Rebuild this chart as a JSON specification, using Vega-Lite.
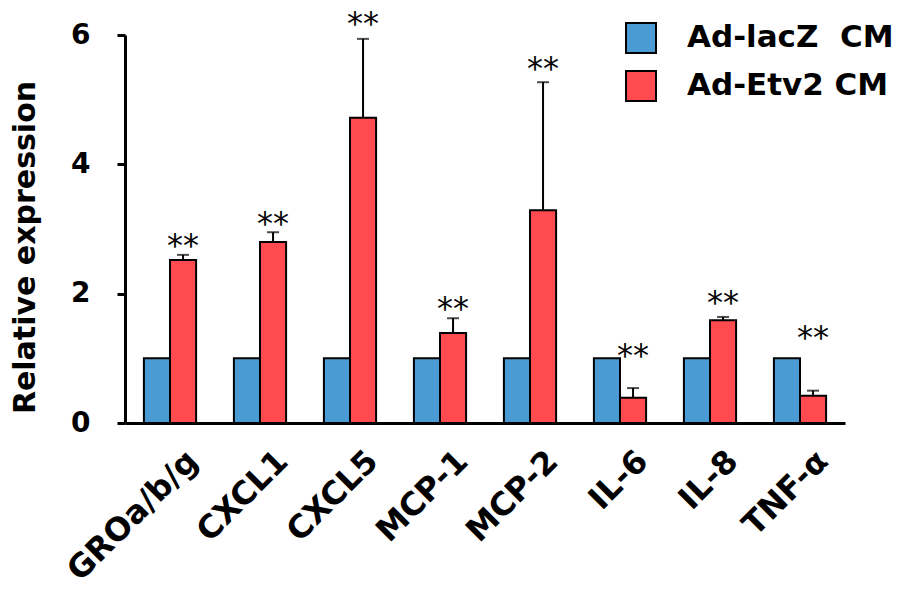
{
  "$schema": "https://vega.github.io/schema/vega-lite/v6.json",
  "width": 720,
  "height": 388,
  "autosize": "none",
  "padding": {"left": 125, "top": 35, "right": 58, "bottom": 180},
  "background": "white",
  "config": {
    "view": {"stroke": null},
    "font": "DejaVu Sans"
  },
  "data": {
    "values": [
      {"gene": "GROa/b/g", "group": "Ad-lacZ CM", "value": 1.0},
      {"gene": "GROa/b/g", "group": "Ad-Etv2 CM", "value": 2.52, "upper": 2.6, "star": 2.83},
      {"gene": "CXCL1", "group": "Ad-lacZ CM", "value": 1.0},
      {"gene": "CXCL1", "group": "Ad-Etv2 CM", "value": 2.8, "upper": 2.95, "star": 3.17},
      {"gene": "CXCL5", "group": "Ad-lacZ CM", "value": 1.0},
      {"gene": "CXCL5", "group": "Ad-Etv2 CM", "value": 4.72, "upper": 5.94, "star": 6.26},
      {"gene": "MCP-1", "group": "Ad-lacZ CM", "value": 1.0},
      {"gene": "MCP-1", "group": "Ad-Etv2 CM", "value": 1.39, "upper": 1.62, "star": 1.86},
      {"gene": "MCP-2", "group": "Ad-lacZ CM", "value": 1.0},
      {"gene": "MCP-2", "group": "Ad-Etv2 CM", "value": 3.29, "upper": 5.27, "star": 5.57},
      {"gene": "IL-6", "group": "Ad-lacZ CM", "value": 1.0},
      {"gene": "IL-6", "group": "Ad-Etv2 CM", "value": 0.39, "upper": 0.54, "star": 1.13},
      {"gene": "IL-8", "group": "Ad-lacZ CM", "value": 1.0},
      {"gene": "IL-8", "group": "Ad-Etv2 CM", "value": 1.59, "upper": 1.64, "star": 1.95},
      {"gene": "TNF-α", "group": "Ad-lacZ CM", "value": 1.0},
      {"gene": "TNF-α", "group": "Ad-Etv2 CM", "value": 0.42, "upper": 0.5, "star": 1.41}
    ]
  },
  "encoding": {
    "x": {
      "field": "gene",
      "type": "nominal",
      "sort": null,
      "scale": {"paddingInner": 0.42, "paddingOuter": 0.21},
      "axis": {
        "title": null,
        "labelAngle": -45,
        "labelAlign": "right",
        "labelBaseline": "top",
        "labelFontSize": 32,
        "labelFontWeight": "bold",
        "labelColor": "black",
        "labelPadding": 22,
        "labelOffset": 12,
        "labelLimit": 400,
        "ticks": false,
        "domainColor": "black",
        "domainWidth": 3
      }
    },
    "xOffset": {
      "field": "group",
      "type": "nominal",
      "sort": ["Ad-lacZ CM", "Ad-Etv2 CM"],
      "scale": {"paddingInner": 0, "paddingOuter": 0}
    }
  },
  "layer": [
    {
      "mark": {"type": "bar", "stroke": "black", "strokeWidth": 2},
      "encoding": {
        "y": {
          "field": "value",
          "type": "quantitative",
          "scale": {"domain": [0, 6], "nice": false},
          "axis": {
            "title": "Relative expression",
            "titleFontSize": 30,
            "titleFontWeight": "bold",
            "titleColor": "black",
            "titlePadding": 30,
            "titleY": 212,
            "values": [0, 2, 4, 6],
            "format": "d",
            "grid": false,
            "labelFontSize": 28,
            "labelFontWeight": "bold",
            "labelColor": "black",
            "labelPadding": 27,
            "tickSize": 8,
            "tickWidth": 3,
            "tickColor": "black",
            "domainColor": "black",
            "domainWidth": 3
          }
        },
        "color": {
          "field": "group",
          "type": "nominal",
          "sort": ["Ad-lacZ CM", "Ad-Etv2 CM"],
          "scale": {"domain": ["Ad-lacZ CM", "Ad-Etv2 CM"], "range": ["#4A9BD4", "#FF4B4F"]},
          "legend": {
            "title": null,
            "orient": "none",
            "legendX": 500,
            "legendY": -13,
            "symbolType": "square",
            "symbolSize": 900,
            "symbolStrokeColor": "black",
            "symbolStrokeWidth": 2,
            "symbolOpacity": 1,
            "labelFontSize": 31,
            "labelFontWeight": "bold",
            "labelColor": "black",
            "labelOffset": 30,
            "labelLimit": 500,
            "labelExpr": "datum.label == 'Ad-lacZ CM' ? 'Ad-lacZ\u00a0 CM' : datum.label",
            "rowPadding": 10
          }
        }
      }
    },
    {
      "transform": [{"filter": "isValid(datum.upper)"}],
      "mark": {"type": "rule", "color": "black", "strokeWidth": 2},
      "encoding": {
        "y": {"field": "value", "type": "quantitative"},
        "y2": {"field": "upper"}
      }
    },
    {
      "transform": [{"filter": "isValid(datum.upper)"}],
      "mark": {"type": "tick", "color": "black", "thickness": 2, "size": 12, "orient": "horizontal"},
      "encoding": {
        "y": {"field": "upper", "type": "quantitative"}
      }
    },
    {
      "transform": [{"filter": "isValid(datum.star)"}],
      "mark": {"type": "text", "text": "**", "fontSize": 32, "color": "black", "baseline": "middle", "align": "center", "dy": 6},
      "encoding": {
        "y": {"field": "star", "type": "quantitative"}
      }
    }
  ]
}
